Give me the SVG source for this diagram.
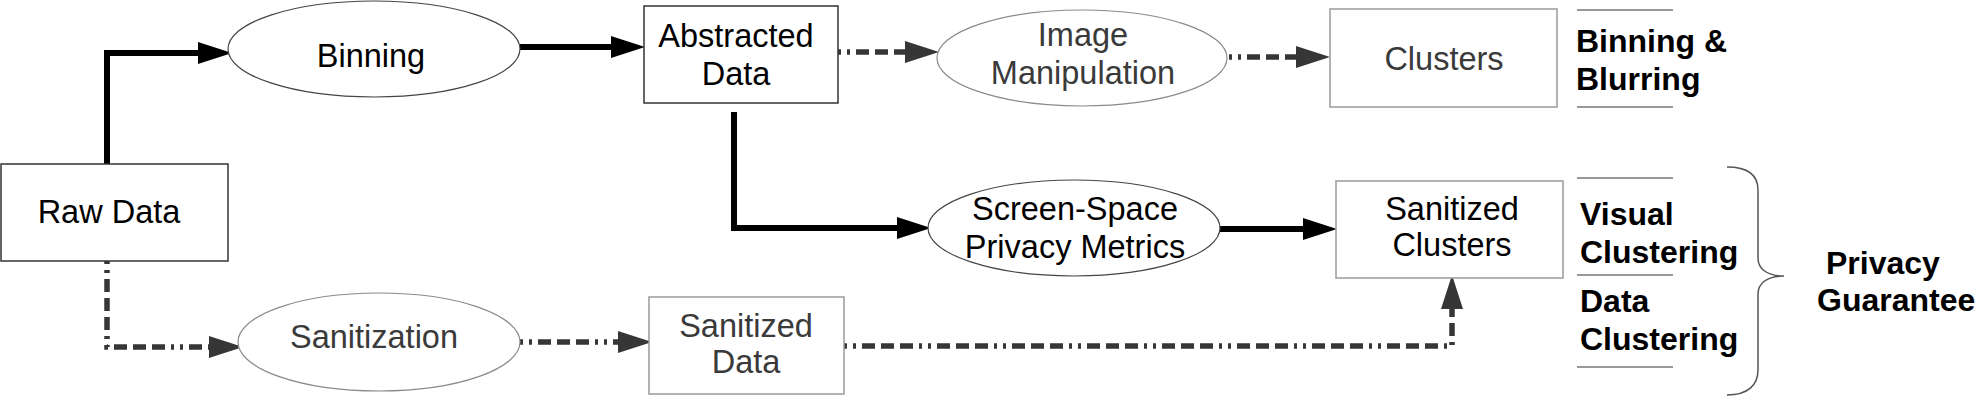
<svg xmlns="http://www.w3.org/2000/svg" width="1983" height="403" viewBox="0 0 1983 403">
<defs>
<marker id="ah" markerUnits="userSpaceOnUse" markerWidth="34" markerHeight="22" refX="0" refY="11" orient="auto" viewBox="0 0 34 22"><path d="M0,0 L34,11 L0,22 z" fill="#000"/></marker>
<marker id="ahg" markerUnits="userSpaceOnUse" markerWidth="34" markerHeight="22" refX="0" refY="11" orient="auto" viewBox="0 0 34 22"><path d="M0,0 L34,11 L0,22 z" fill="#363636"/></marker>
<style>
text{font-family:"Liberation Sans",Arial,sans-serif;font-size:32.5px;text-anchor:middle}
.k{fill:#000}
.g{fill:#3a3a3a}
.b{font-weight:bold;text-anchor:start;font-size:32px;fill:#000}
.bx{fill:#fff;stroke:#333;stroke-width:1.5}
.bxg{fill:#fff;stroke:#9a9a9a;stroke-width:1.5}
.el{fill:#fff;stroke:#444;stroke-width:1.2}
.elg{fill:#fff;stroke:#8a8a8a;stroke-width:1.2}
.sol{fill:none;stroke:#000;stroke-width:6;marker-end:url(#ah)}
.dsh{fill:none;stroke:#363636;stroke-width:5.5;stroke-dasharray:3 6 3 6 13 6 13 6 13 6;marker-end:url(#ahg)}
.sep{stroke:#777;stroke-width:1.5}
</style>
</defs>
<g id="connectors">
<path class="sol" d="M107,164 V53 H198"/>
<path class="sol" d="M520,47 H611"/>
<path class="sol" d="M734,112 V228 H897"/>
<path class="sol" d="M1220,229 H1303"/>
<path class="dsh" d="M838,52 H905"/>
<path class="dsh" d="M1229,57 H1296"/>
<path class="dsh" d="M107,261 V347 H209"/>
<path class="dsh" d="M520,342 H618"/>
<path class="dsh" d="M844,346 H1452 V309"/>
</g>
<g id="raw-data"><rect class="bx" x="1" y="164" width="227" height="97"/><text class="k" x="109" y="223">Raw Data</text></g>
<g id="binning"><ellipse class="el" cx="374" cy="49" rx="146" ry="48"/><text class="k" x="371" y="67">Binning</text></g>
<g id="abstracted-data"><rect class="bx" x="644" y="6" width="194" height="97"/><text class="k" x="736" y="47">Abstracted</text><text class="k" x="736" y="85">Data</text></g>
<g id="image-manipulation"><ellipse class="elg" cx="1082" cy="58" rx="145" ry="48"/><text class="g" x="1083" y="46">Image</text><text class="g" x="1083" y="84">Manipulation</text></g>
<g id="clusters"><rect class="bxg" x="1330" y="9" width="227" height="98"/><text class="g" x="1444" y="70">Clusters</text></g>
<g id="screen-space"><ellipse class="el" cx="1074" cy="228" rx="146" ry="48"/><text class="k" x="1075" y="220">Screen-Space</text><text class="k" x="1075" y="258">Privacy Metrics</text></g>
<g id="sanitized-clusters"><rect class="bxg" x="1336" y="181" width="227" height="97"/><text class="k" x="1452" y="220">Sanitized</text><text class="k" x="1452" y="256">Clusters</text></g>
<g id="sanitization"><ellipse class="elg" cx="379" cy="342" rx="141" ry="49"/><text class="g" x="374" y="348">Sanitization</text></g>
<g id="sanitized-data"><rect class="bxg" x="649" y="297" width="195" height="97"/><text class="g" x="746" y="337">Sanitized</text><text class="g" x="746" y="373">Data</text></g>
<g id="binning-blurring"><line class="sep" x1="1577" y1="10" x2="1673" y2="10"/><line class="sep" x1="1577" y1="107" x2="1673" y2="107"/><text class="b" x="1576" y="52">Binning &amp;</text><text class="b" x="1576" y="90">Blurring</text></g>
<g id="visual-clustering"><line class="sep" x1="1577" y1="178" x2="1673" y2="178"/><line class="sep" x1="1577" y1="275" x2="1673" y2="275"/><text class="b" x="1580" y="225">Visual</text><text class="b" x="1580" y="263">Clustering</text></g>
<g id="data-clustering"><line class="sep" x1="1577" y1="367" x2="1673" y2="367"/><text class="b" x="1580" y="312">Data</text><text class="b" x="1580" y="350">Clustering</text></g>
<g id="privacy-guarantee"><path d="M1727,167 C1748,167 1758,175 1758,190 V258 C1758,268 1766,276 1784,276 C1766,276 1758,284 1758,294 V370 C1758,385 1748,395 1727,395" fill="none" stroke="#555" stroke-width="1.5"/><text class="b" x="1826" y="274">Privacy</text><text class="b" x="1817" y="311">Guarantee</text></g>
</svg>
